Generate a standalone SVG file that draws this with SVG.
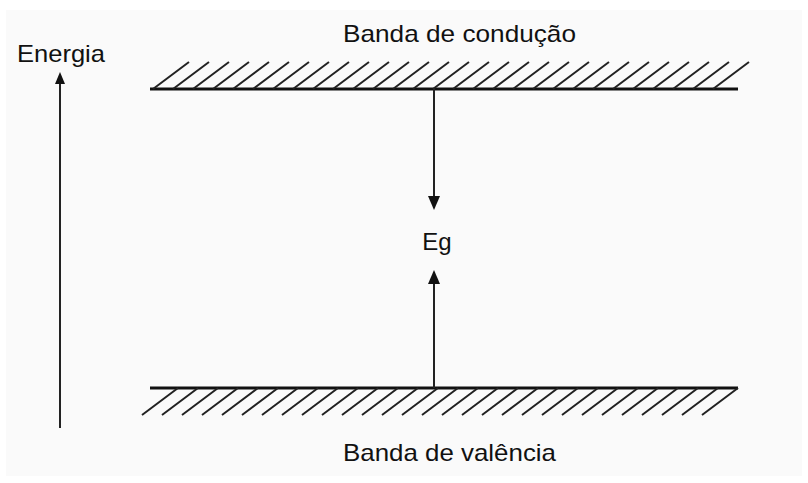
<svg xmlns="http://www.w3.org/2000/svg" width="808" height="483" viewBox="0 0 808 483">
<style>
.band{stroke:#111;stroke-width:3;fill:none}
.hatch{stroke:#222;stroke-width:2;fill:none}
.arr{stroke:#222;stroke-width:2;fill:none}
.head{fill:#111}
text{font-family:"Liberation Sans",Arial,sans-serif;font-size:24px;fill:#111}
</style>
<rect x="6" y="10" width="796" height="466" fill="#fafafa"/>
<g id="banda-conducao">
<line class="band" x1="150" y1="89" x2="738" y2="89"/>
<path class="hatch" d="M153,89l36,-27M173,89l36,-27M193,89l36,-27M213,89l36,-27M233,89l36,-27M253,89l36,-27M273,89l36,-27M293,89l36,-27M313,89l36,-27M333,89l36,-27M353,89l36,-27M373,89l36,-27M393,89l36,-27M413,89l36,-27M433,89l36,-27M453,89l36,-27M473,89l36,-27M493,89l36,-27M513,89l36,-27M533,89l36,-27M553,89l36,-27M573,89l36,-27M593,89l36,-27M613,89l36,-27M633,89l36,-27M653,89l36,-27M673,89l36,-27M693,89l36,-27M713,89l36,-27"/>
<text x="343" y="42" textLength="233" lengthAdjust="spacingAndGlyphs">Banda de condução</text>
</g>
<g id="banda-valencia">
<line class="band" x1="150" y1="388" x2="738" y2="388"/>
<path class="hatch" d="M178,388l-36,27M198,388l-36,27M218,388l-36,27M238,388l-36,27M258,388l-36,27M278,388l-36,27M298,388l-36,27M318,388l-36,27M338,388l-36,27M358,388l-36,27M378,388l-36,27M398,388l-36,27M418,388l-36,27M438,388l-36,27M458,388l-36,27M478,388l-36,27M498,388l-36,27M518,388l-36,27M538,388l-36,27M558,388l-36,27M578,388l-36,27M598,388l-36,27M618,388l-36,27M638,388l-36,27M658,388l-36,27M678,388l-36,27M698,388l-36,27M718,388l-36,27M738,388l-36,27"/>
<text x="343" y="461" textLength="213" lengthAdjust="spacingAndGlyphs">Banda de valência</text>
</g>
<g id="energia">
<text x="17" y="62" textLength="88" lengthAdjust="spacingAndGlyphs">Energia</text>
</g>
<g id="eg">
<text x="437" y="250" text-anchor="middle">Eg</text>
</g>
<g id="connectors">
<line class="arr" x1="60" y1="428" x2="60" y2="82"/>
<polygon class="head" points="60,72 55,84 65,84"/>
<line class="arr" x1="434" y1="89" x2="434" y2="198"/>
<polygon class="head" points="434,210 428,196 440,196"/>
<line class="arr" x1="434" y1="388" x2="434" y2="282"/>
<polygon class="head" points="434,270 428,284 440,284"/>
</g>
</svg>
